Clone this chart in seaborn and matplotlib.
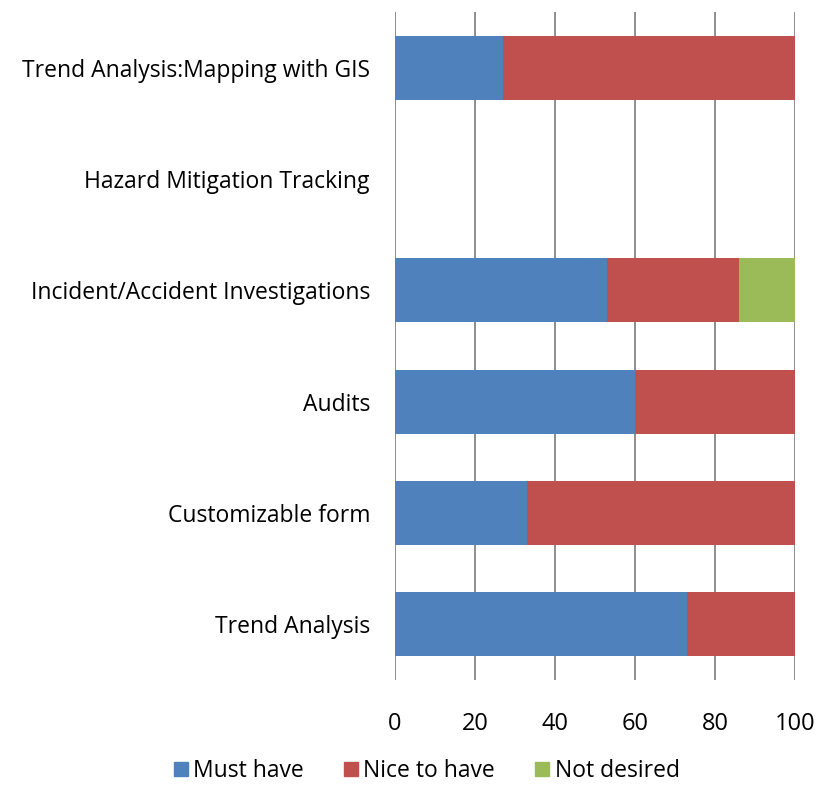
import matplotlib
matplotlib.use("Agg")
import matplotlib.pyplot as plt
import seaborn as sns
import pandas as pd
from matplotlib.lines import Line2D

categories = ["Trend Analysis:Mapping with GIS", "Hazard Mitigation Tracking",
              "Incident/Accident Investigations", "Audits", "Customizable form", "Trend Analysis"]
must_have = [27, 0, 53, 60, 33, 73]
nice_to_have = [73, 0, 33, 40, 67, 27]
not_desired = [0, 0, 14, 0, 0, 0]
series_names = ["Must have", "Nice to have", "Not desired"]
colors = ["#4F81BD", "#C0504D", "#9BBB59"]
xticks = [0, 20, 40, 60, 80, 100]

sns.set_style("white")
plt.rcParams['font.family'] = ['Open Sans', 'DejaVu Sans']

df = pd.DataFrame({"cat": categories, "m": must_have, "n": nice_to_have, "d": not_desired})
df["c1"] = df["m"]
df["c2"] = df["m"] + df["n"]
df["c3"] = df["m"] + df["n"] + df["d"]

fig = plt.figure(figsize=(8.19, 7.86), dpi=100)
ax = fig.add_axes([395/819, 1-680/786, 400/819, 668/786])

for col, c in zip(["c3", "c2", "c1"], colors[::-1]):
    sns.barplot(data=df, x=col, y="cat", order=categories, color=c, orient="h",
                width=0.576, ax=ax, saturation=1, linewidth=0, zorder=3)

ax.set_xlim(0, 100)
ax.set_ylim(5.5, -0.5)
ax.set_xticks(xticks)
ax.set_xticklabels([str(v) for v in xticks], fontsize=17)
ax.set_xlabel("")
ax.set_ylabel("")
for v in xticks:
    ax.axvline(v, color="#868686", linewidth=1.3, zorder=1)
for s in ax.spines.values():
    s.set_visible(False)
ax.tick_params(axis="x", length=0, pad=23, colors="black")
ax.tick_params(axis="y", length=0, pad=18, labelsize=16.5, colors="black")

handles = [Line2D([0], [0], marker="s", linestyle="", markersize=10,
                  markerfacecolor=c, markeredgecolor=c) for c in colors]
fig.legend(handles, series_names, loc="center", bbox_to_anchor=(425/819, 1-771/786),
           ncol=3, frameon=False, fontsize=16.5, handletextpad=0.1, columnspacing=1.6,
           handlelength=0.9, labelcolor="black")

fig.savefig("out.png", dpi=100)
